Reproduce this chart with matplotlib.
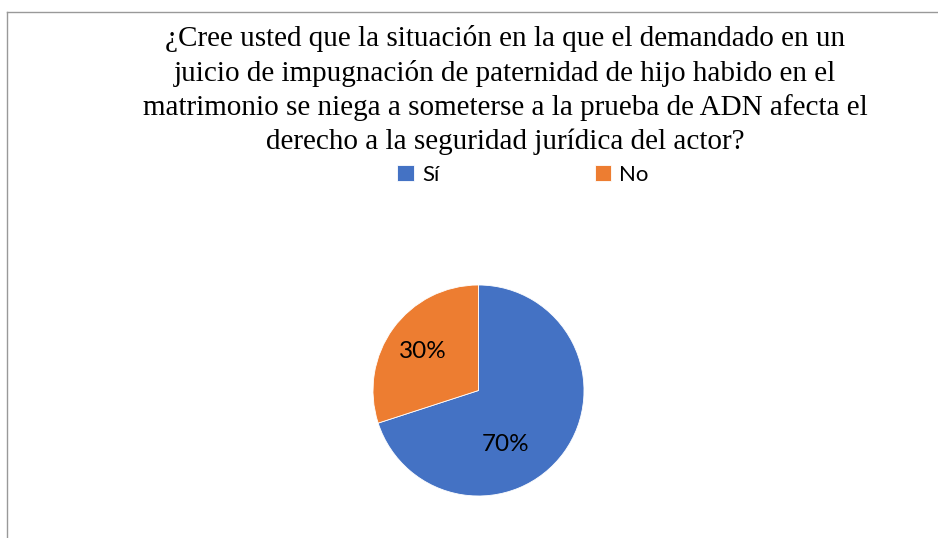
import matplotlib
matplotlib.use('Agg')
import matplotlib.pyplot as plt
from matplotlib.lines import Line2D
import numpy as np

# Chart data
labels = ['Sí', 'No']
values = [70, 30]
colors = ['#4472C4', '#ED7D31']
title = ('¿Cree usted que la situación en la que el demandado en un\n'
         'juicio de impugnación de paternidad de hijo habido en el\n'
         'matrimonio se niega a someterse a la prueba de ADN afecta el\n'
         'derecho a la seguridad jurídica del actor?')

W, H = 938, 538
fig = plt.figure(figsize=(W / 100, H / 100), dpi=100)

# Pie axes, centred at (478, 390) px with radius ~106 px
cx, cy, r = 478.5, 390.5, 105.5
ax = fig.add_axes([(cx - r) / W, (H - cy - r) / H, 2 * r / W, 2 * r / H])
wedges, texts, autotexts = ax.pie(values, colors=colors, startangle=90,
                                  counterclock=False, autopct='%1.0f%%',
                                  pctdistance=0.6,
                                  wedgeprops=dict(edgecolor='white', linewidth=0.6),
                                  textprops=dict(fontsize=17.5, family='Lato', color='black'))
ax.set_xlim(-1, 1)
ax.set_ylim(-1, 1)
ax.set_aspect('equal')

# Excel's "best fit" label placement (radius fraction, angle in degrees)
label_pos = [(0.57, -63.6), (0.65, 145)]
for t, (rad, ang) in zip(autotexts, label_pos):
    a = np.deg2rad(ang)
    t.set_position((rad * np.cos(a), rad * np.sin(a)))

# Title
fig.text(505 / W, (H - 25) / H, title, ha='center', va='top',
         fontsize=21, family='Liberation Serif', linespacing=1.36)

# Legend
fig.legend(wedges, labels, loc='center', bbox_to_anchor=(523 / W, (H - 175) / H),
           ncol=2, frameon=False, handlelength=0.75, handleheight=0.75,
           handletextpad=0.35, columnspacing=7.0,
           prop=dict(family='Lato', size=16))

# Chart area border (only top and left visible)
fig.add_artist(Line2D([7 / W, 1], [(H - 12) / H, (H - 12) / H], color='#999999', lw=1))
fig.add_artist(Line2D([7 / W, 7 / W], [0, (H - 12) / H], color='#999999', lw=1))

fig.savefig('out.png', dpi=100)
